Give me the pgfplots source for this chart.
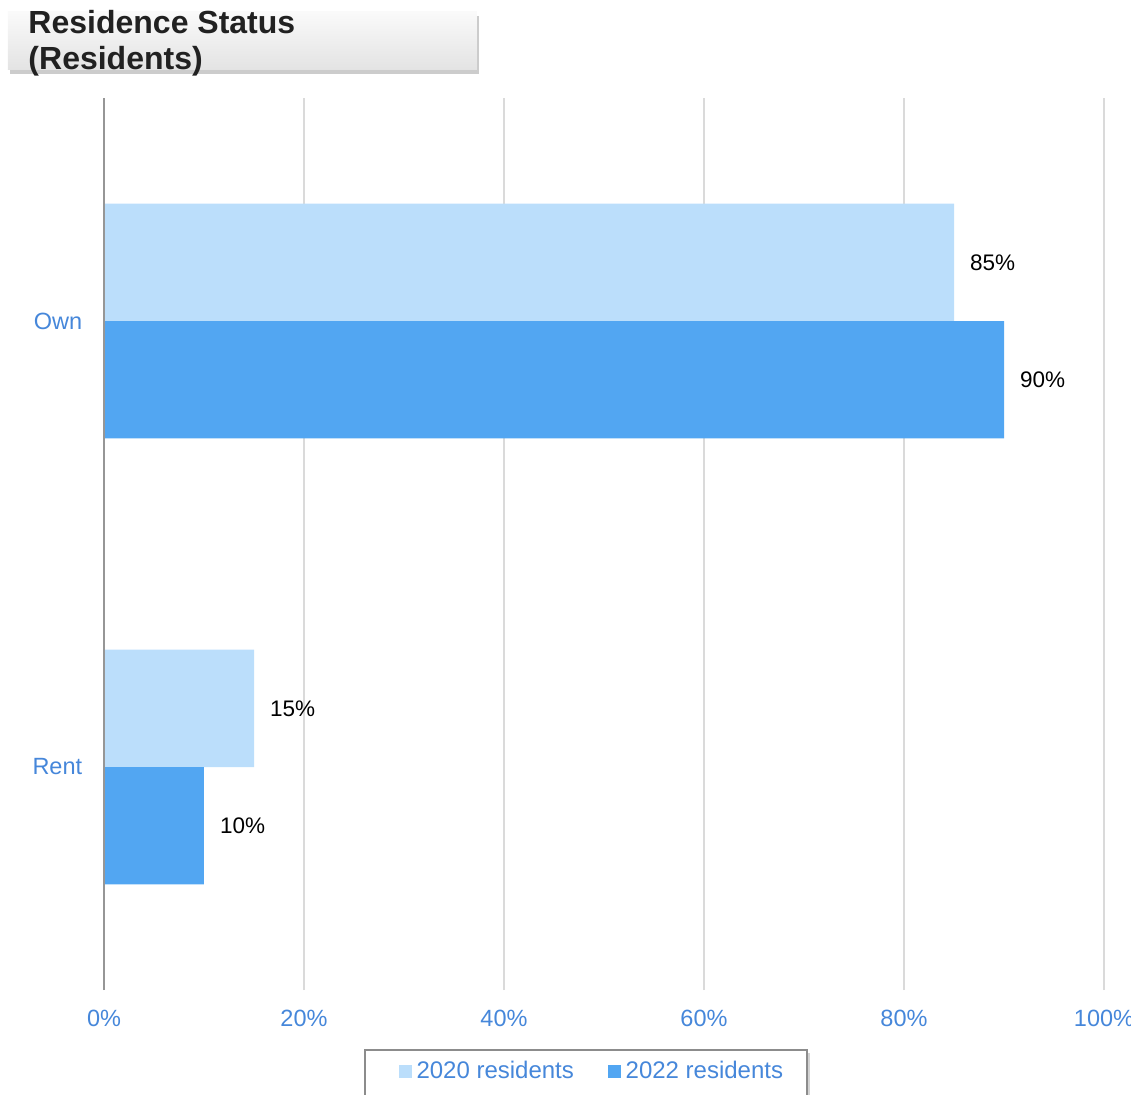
\documentclass[border=0pt]{standalone}
\usepackage{pgfplots}
\pgfplotsset{compat=1.18}
\usepackage{fontspec}
\setmainfont{Liberation Sans}
\usetikzlibrary{shadows}
\definecolor{lightbar}{RGB}{187,222,251}
\definecolor{darkbar}{RGB}{82,166,242}
\definecolor{ticktext}{RGB}{70,135,218}
\definecolor{gridc}{RGB}{218,218,218}
\definecolor{axisc}{RGB}{150,150,150}
\definecolor{titletext}{RGB}{33,33,33}
\begin{document}
\begin{tikzpicture}
\useasboundingbox (0,0) rectangle (452.4pt,437.6pt);
% title box and legend frame (pixel coords, y downward from top)
\begin{scope}[x=0.4pt,y=-0.4pt,shift={(0,437.6pt)}]
\path[top color=gray!4, bottom color=gray!22, drop shadow={shadow xshift=0.8pt, shadow yshift=-1.6pt, opacity=0.4}] (8,12) rectangle (477,70);
\node[anchor=base west, inner sep=0pt, font=\fontsize{12.8pt}{14.8pt}\selectfont\bfseries, text=titletext] at (28,34) {Residence Status};
\node[anchor=base west, inner sep=0pt, font=\fontsize{12.8pt}{14.8pt}\selectfont\bfseries, text=titletext] at (28,70) {(Residents)};
\path[fill=white, draw=gray!90, line width=0.8pt, drop shadow={shadow xshift=1.4pt, shadow yshift=-1.2pt, opacity=0.35}] (365,1050) rectangle (807,1110);
\end{scope}
\begin{axis}[
  at={(41.6pt,41.6pt)}, anchor=south west,
  scale only axis, width=400pt, height=356.8pt,
  xmin=0, xmax=100, ymin=-0.5, ymax=1.5,
  xtick={0,20,40,60,80,100},
  xticklabels={0\%,20\%,40\%,60\%,80\%,100\%},
  ytick={0,1}, yticklabels={Rent,Own},
  major tick length=0pt,
  axis line style={draw=none},
  xmajorgrids, grid style={gridc, line width=0.8pt},
  tick label style={font=\fontsize{9.4pt}{11pt}\selectfont, text=ticktext},
  xticklabel style={yshift=-4.6pt},
  yticklabel style={xshift=-5.2pt},
  /pgf/number format/assume math mode=true,
  point meta=x,
  nodes near coords={\pgfmathprintnumber{\pgfplotspointmeta}\%},
  legend columns=2,
  legend style={at={(0.294,-0.0919)}, anchor=west, draw=none, fill=none,
    font=\fontsize{9.6pt}{11pt}\selectfont, text=ticktext,
    inner xsep=0pt, inner ysep=0pt,
    /tikz/every even column/.append style={column sep=11.5pt}},
  legend image code/.code={\fill[#1] (0pt,-2.6pt) rectangle (5.2pt,2.6pt);},
  clip=false,
]
\addplot[xbar, bar width=0.263, bar shift=0.1315, fill=lightbar, draw=none,
  nodes near coords style={anchor=west, xshift=2.9pt, yshift=23.4pt, font=\fontsize{9pt}{11pt}\selectfont, text=black}] coordinates {(85,1) (15,0)};
\addlegendentry{2020 residents}
\addplot[xbar, bar width=0.263, bar shift=-0.1315, fill=darkbar, draw=none,
  nodes near coords style={anchor=west, xshift=2.9pt, yshift=-23.4pt, font=\fontsize{9pt}{11pt}\selectfont, text=black}] coordinates {(90,1) (10,0)};
\addlegendentry{2022 residents}
\draw[axisc, line width=0.8pt] (axis cs:0,-0.5) -- (axis cs:0,1.5);
\end{axis}
\end{tikzpicture}
\end{document}
